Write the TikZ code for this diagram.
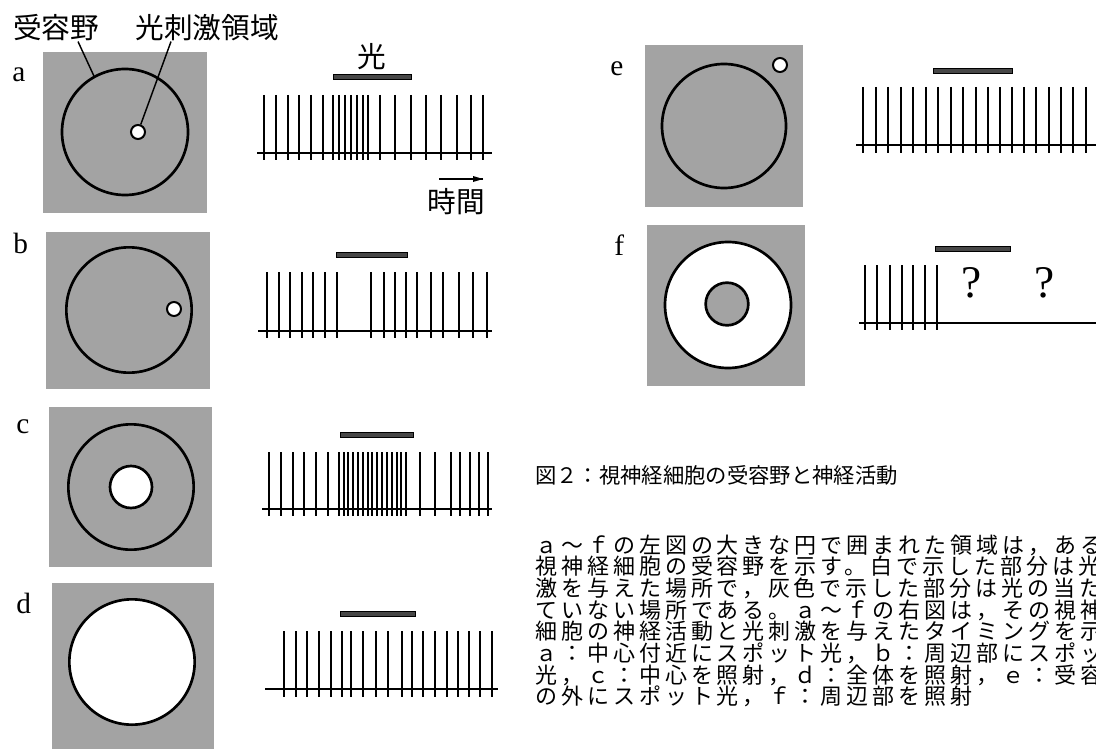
\documentclass[tikz,border=0pt]{standalone}
\usepackage{fontspec}
\setmainfont{Liberation Serif}
\newfontfamily\jfont{Noto Sans CJK JP}
\newfontfamily\jbody{Noto Sans CJK JP}[LetterSpace=18]
\usetikzlibrary{positioning}

\definecolor{fieldgray}{gray}{0.64}
\tikzset{
  field/.style={fill=fieldgray},
  rim/.style={circle, draw, line width=2pt, minimum size=94.5pt},
  spot/.style={circle, draw, fill=white, line width=1.5pt, minimum size=10.5pt},
  hole/.style={circle, draw, fill=white, line width=2pt, minimum size=31.5pt},
  spike/.style={line width=1.6pt},
  axis/.style={line width=1.1pt},
  lightbar/.style={fill=black!72, draw=black, line width=0.6pt},
  leader/.style={line width=1.1pt},
  panel/.style={font=\fontsize{22}{22}\selectfont, anchor=base west},
  jlabel/.style={font=\jfont\fontsize{21.5}{21.5}\selectfont},
  query/.style={font=\fontsize{34}{34}\selectfont, anchor=base},
  caption/.style={font=\jfont\fontsize{16}{16}\selectfont, anchor=base west},
  body/.style={font=\jbody\fontsize{16.5}{16.5}\selectfont, anchor=base west},
}

\begin{document}
\begin{tikzpicture}[x=0.75pt, y=-0.75pt]
	\tikzstyle{every node}+=[inner sep=0pt]
	\useasboundingbox (0,0) rectangle (1096,749);
	\clip (0,0) rectangle (1096,749);
	% a
	\fill [field] (43,52) rectangle (207,213);
	\node [rim] (afield) at (125,132) {};
	\node [spot] (aspot) at (138,132) {};
	\node [panel] (alab) at (12,82) {a};
	\node [jlabel] (fieldlbl) at (56,28) {受容野};
	\node [jlabel] (spotlbl) at (207,28) {光刺激領域};
	\draw [leader] ([xshift=16.5pt]fieldlbl.south) -- (afield.119);
	\draw [leader] ([xshift=-27pt]spotlbl.south) -- (aspot);
	\draw [lightbar] (333,74) rectangle (411,79);
	\node [jlabel] (lightlbl) at (372,57) {光};
	\foreach \t in {264,276,288,299,311,323,333,339,345,351,357,363,368,380,395,411,426,441,457,471,483}
		\draw [spike] (\t,95) -- (\t,160);
	\draw [axis] (257,153) -- (492,153);
	\coordinate (tfrom) at (439,179);
	\coordinate (tto) at (483,179);
	\draw [line width=0.8pt] (tfrom) -- (tto);
	\fill (tto) -- ++(-10,-3) -- ++(0,6) -- cycle;
	\node [jlabel] (timelbl) at (456,202) {時間};
	% b
	\fill [field] (46,232) rectangle (210,389);
	\node [rim, minimum size=94pt] (bfield) at (129,310) {};
	\node [spot] (bspot) at (174,309) {};
	\node [panel] (blab) at (13,253) {b};
	\draw [lightbar] (336,252) rectangle (407,257);
	\foreach \t in {267,279,290,302,313,325,337,371,384,395,406,417,431,443,459,473,487}
		\draw [spike] (\t,272) -- (\t,338);
	\draw [axis] (258,331) -- (492,331);
	% c
	\fill [field] (49,407) rectangle (212,567);
	\node [rim, minimum size=94pt] (cfield) at (131,487) {};
	\node [hole] (cspot) at (131,487) {};
	\node [panel] (clab) at (16,433) {c};
	\draw [lightbar] (340,432) rectangle (413,437);
	\foreach \t in {269,281,293,304,316,328,339,344,348,353,358,363,368,372,377,382,387,392,397,401,406,420,435,451,460,470,479,488}
		\draw [spike] (\t,452) -- (\t,516);
	\draw [axis] (262,509) -- (492,509);
	% d
	\fill [field] (52,583) rectangle (214,760);
	\node [rim, minimum size=94pt, fill=white] (dfield) at (132,662) {};
	\node [panel] (dlab) at (16,613) {d};
	\draw [lightbar] (340,611) rectangle (415,616);
	\foreach \t in {284,296,307,319,331,342,351,363,376,388,402,412,423,435,447,458,469,480,492}
		\draw [spike] (\t,631) -- (\t,697);
	\draw [axis] (265,689) -- (498,689);
	% e
	\fill [field] (645,45) rectangle (803,207);
	\node [rim, minimum size=93pt] (efield) at (724,126) {};
	\node [spot] (espot) at (780,65) {};
	\node [panel] (elab) at (610,75) {e};
	\draw [lightbar] (933,68) rectangle (1012,73);
	\foreach \t in {863,876,888,901,913,926,938,951,963,976,988,1000,1012,1024,1036,1049,1061,1073,1086}
		\draw [spike] (\t,87) -- (\t,153);
	\draw [axis] (856,145) -- (1100,145);
	% f
	\fill [field] (647,225) rectangle (805,386);
	\node [rim, fill=white] (ffield) at (728,305) {};
	\node [hole, fill=fieldgray, minimum size=32pt] (fspot) at (727,304) {};
	\node [panel] (flab) at (614,255) {f};
	\draw [lightbar] (935,246) rectangle (1010,251);
	\foreach \t in {865,877,890,902,913,925,937}
		\draw [spike] (\t,265) -- (\t,330);
	\draw [axis] (859,323) -- (1100,323);
	\node [query] (fq1) at (972,297) {?};
	\node [query] (fq2) at (1045,297) {?};
	% caption
	\node [caption] (figcap) at (535,483) {図２：視神経細胞の受容野と神経活動};
	\foreach \ln [count=\i] in {ａ～ｆの左図の大きな円で囲まれた領域は，ある,
		視神経細胞の受容野を示す。白で示した部分は光刺,
		激を与えた場所で，灰色で示した部分は光の当たっ,
		ていない場所である。ａ～ｆの右図は，その視神経,
		細胞の神経活動と光刺激を与えたタイミングを示す。,
		ａ：中心付近にスポット光，ｂ：周辺部にスポット,
		光，ｃ：中心を照射，ｄ：全体を照射，ｅ：受容野,
		の外にスポット光，ｆ：周辺部を照射}
		\node [body] (note\i) at (535,531.3+21.7*\i) {\ln};
\end{tikzpicture}
\end{document}
